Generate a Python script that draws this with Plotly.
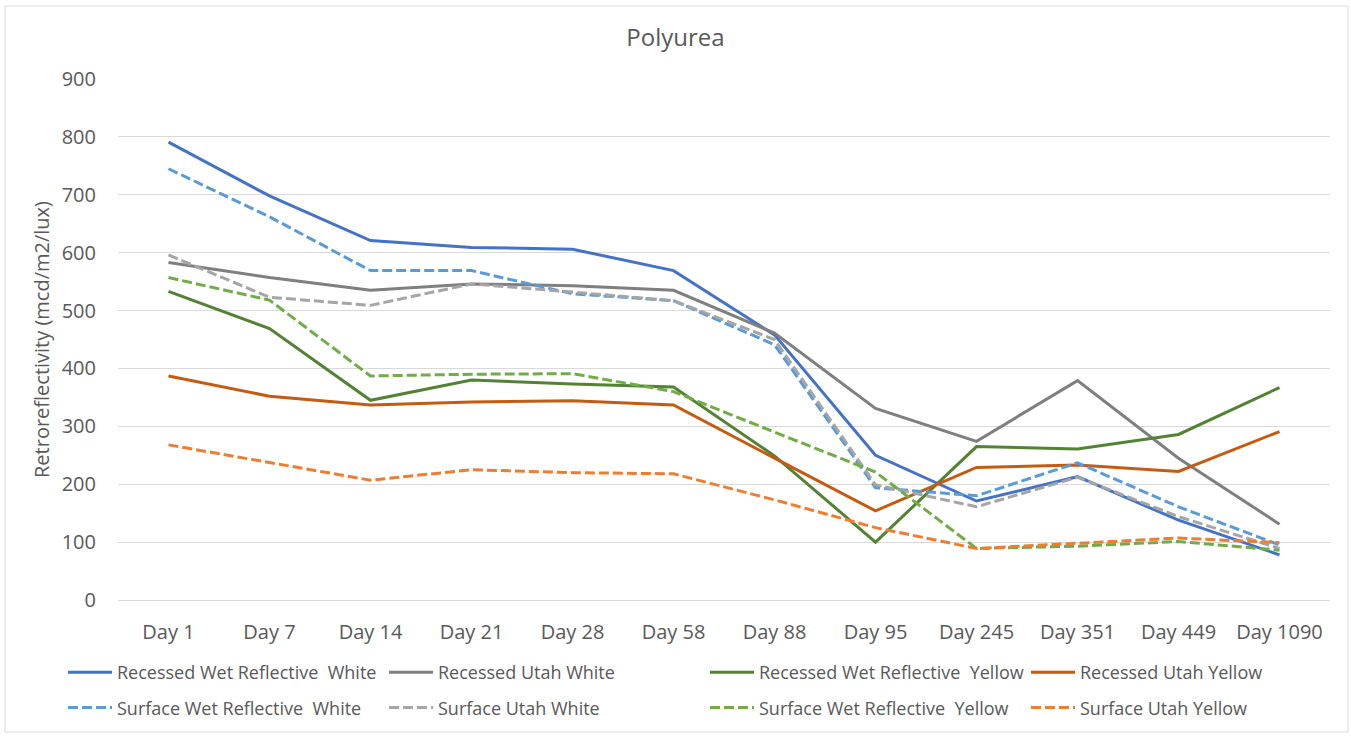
import plotly.graph_objects as go

days = ["Day 1", "Day 7", "Day 14", "Day 21", "Day 28", "Day 58", "Day 88",
        "Day 95", "Day 245", "Day 351", "Day 449", "Day 1090"]

rec_wet_white = [791, 698, 621, 609, 606, 569, 458, 250, 171, 213, 138, 78]
rec_utah_white = [583, 557, 535, 546, 543, 535, 461, 331, 274, 379, 245, 131]
rec_wet_yellow = [533, 469, 345, 380, 373, 368, 249, 100, 265, 261, 286, 367]
rec_utah_yellow = [387, 352, 337, 342, 344, 337, 245, 154, 229, 233, 222, 291]
surf_wet_white = [745, 662, 569, 569, 529, 517, 441, 194, 180, 237, 161, 95]
surf_utah_white = [596, 523, 509, 546, 532, 517, 450, 199, 161, 212, 144, 89]
surf_wet_yellow = [557, 518, 387, 390, 391, 360, 290, 221, 89, 93, 101, 86]
surf_utah_yellow = [268, 238, 207, 225, 220, 218, 173, 125, 89, 98, 107, 99]

DASH = "10px,4px"
# (name, values, colour, dash, legend column)
series = [
    ("Recessed Wet Reflective  White", rec_wet_white, "#4472C4", "solid", "legend"),
    ("Recessed Utah White", rec_utah_white, "#7F7F7F", "solid", "legend2"),
    ("Recessed Wet Reflective  Yellow", rec_wet_yellow, "#548235", "solid", "legend3"),
    ("Recessed Utah Yellow", rec_utah_yellow, "#C55A11", "solid", "legend4"),
    ("Surface Wet Reflective  White", surf_wet_white, "#5B9BD5", DASH, "legend"),
    ("Surface Utah White", surf_utah_white, "#A5A5A5", DASH, "legend2"),
    ("Surface Wet Reflective  Yellow", surf_wet_yellow, "#70AD47", DASH, "legend3"),
    ("Surface Utah Yellow", surf_utah_yellow, "#ED7D31", DASH, "legend4"),
]

fig = go.Figure()
for i, (name, vals, color, dash, leg) in enumerate(series):
    fig.add_trace(go.Scatter(x=days, y=vals, name=name, mode="lines",
                             legend=leg, legendgroup=f"g{i}",
                             line=dict(color=color, width=3, dash=dash)))

FONT = "Open Sans, Segoe UI, sans-serif"
TXT = "#595959"
W, H = 1351, 738
L, R, T, B = 118, 21, 79, 138
PW, PH = W - L - R, H - T - B

def leg(xpx):
    return dict(orientation="v", xref="paper", yref="paper",
                x=(xpx - L) / PW, xanchor="left", y=(T + PH - 654) / PH, yanchor="top",
                itemwidth=44, tracegroupgap=9,
                font=dict(size=18, color=TXT, family=FONT),
                bgcolor="rgba(0,0,0,0)", borderwidth=0)

fig.update_layout(
    width=W, height=H,
    margin=dict(l=L, r=R, t=T, b=B, autoexpand=False),
    paper_bgcolor="white", plot_bgcolor="white",
    font=dict(family=FONT, color=TXT, size=18),
    title=dict(text="Polyurea", x=0.5, xref="container", xanchor="center",
               y=1 - 38 / H, yref="container", yanchor="middle",
               font=dict(size=24, color=TXT, family=FONT)),
    xaxis=dict(type="category", showgrid=False, showline=True, linecolor="#D9D9D9",
               linewidth=1, ticks="", tickfont=dict(size=20, color=TXT),
               ticklabelstandoff=14, range=[-0.5, 11.5], automargin=False),
    yaxis=dict(range=[0, 900], dtick=100, showgrid=True, gridcolor="#D9D9D9",
               gridwidth=1, zeroline=False, showline=False, ticks="",
               tickfont=dict(size=20, color=TXT), ticklabelstandoff=21, automargin=False,
               title=dict(text="Retroreflectivity (mcd/m2/lux)",
                          font=dict(size=20, color=TXT), standoff=6)),
    legend=leg(63),
    legend2=leg(384),
    legend3=leg(705),
    legend4=leg(1026),
    showlegend=True,
)

fig.add_shape(type="rect", xref="paper", yref="paper",
              x0=-113 / PW, x1=1 + 18 / PW, y0=-132 / PH, y1=1 + 73 / PH,
              line=dict(color="#D9D9D9", width=1), fillcolor="rgba(0,0,0,0)", layer="below")

fig.write_html("out.html", config={"displayModeBar": False},
               post_script="document.body.style.margin='0';")
